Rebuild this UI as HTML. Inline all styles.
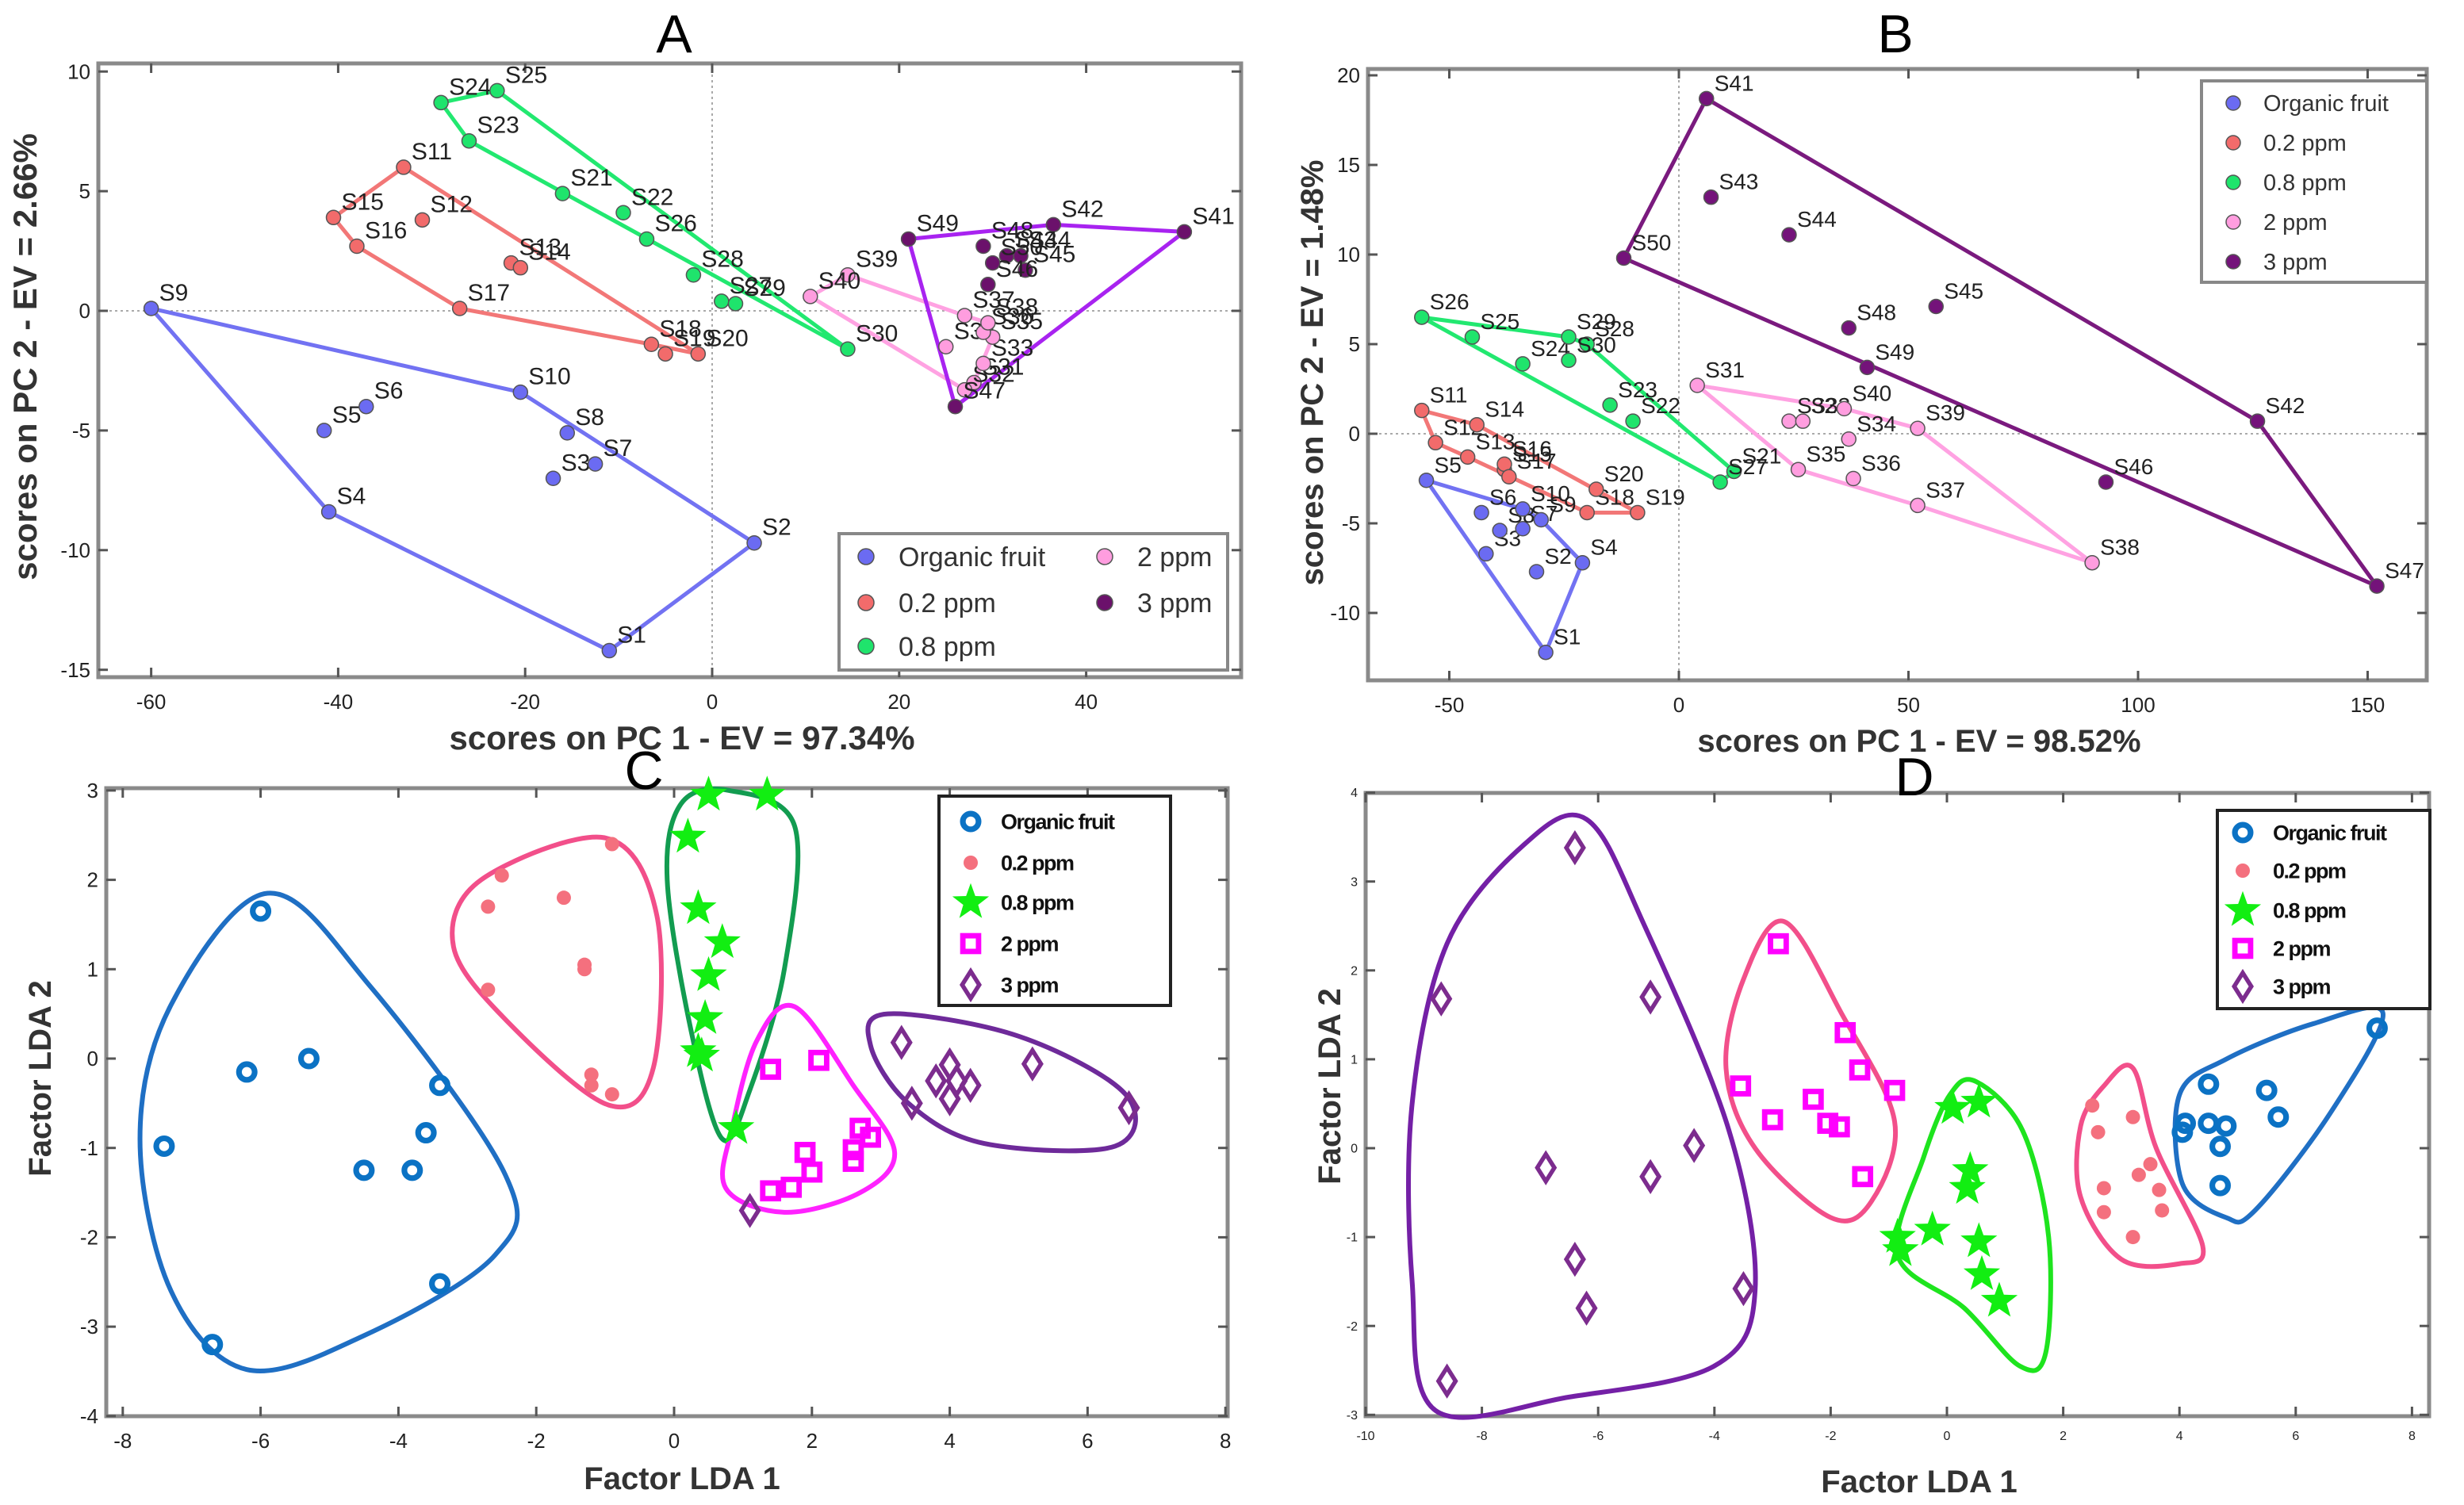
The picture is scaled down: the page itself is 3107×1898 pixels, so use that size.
<!DOCTYPE html>
<html><head><meta charset="utf-8">
<style>
html,body{margin:0;padding:0;background:#fff;}
svg{display:block;font-family:"Liberation Sans",sans-serif;}
</style></head>
<body>
<svg id="fig" width="3107" height="1898" viewBox="0 0 3107 1898" xmlns="http://www.w3.org/2000/svg"></svg>
<script>
// ---------- Panel A data (PCA) ----------
const aNames = ["S1","S2","S3","S4","S5","S6","S7","S8","S9","S10","S11","S12","S13","S14","S15","S16","S17","S18","S19","S20","S21","S22","S23","S24","S25","S26","S27","S28","S29","S30","S31","S32","S33","S34","S35","S36","S37","S38","S39","S40","S41","S42","S43","S44","S45","S46","S47","S48","S49","S50"];
const aX = [-11,4.5,-17,-41,-41.5,-37,-12.5,-15.5,-60,-20.5, -33,-31,-21.5,-20.5,-40.5,-38,-27,-6.5,-5,-1.5, -16,-9.5,-26,-29,-23,-7,1,-2,2.5,14.5, 28,27,29,25,30,29,27,29.5,14.5,10.5, 50.5,36.5,31.5,33,33.5,29.5,26,29,21,30];
const aY = [-14.2,-9.7,-7,-8.4,-5,-4,-6.4,-5.1,0.1,-3.4, 6,3.8,2,1.8,3.9,2.7,0.1,-1.4,-1.8,-1.8, 4.9,4.1,7.1,8.7,9.2,3,0.4,1.5,0.3,-1.6, -3,-3.3,-2.2,-1.5,-1.1,-0.9,-0.2,-0.5,1.5,0.6, 3.3,3.6,2.3,2.3,1.7,1.1,-4,2.7,3,2];
const aHulls = [[9,10,2,1,4],[11,20,18,17,16,15],[24,25,30,23],[40,39,37,38,35,31,32],[49,42,41,47]];
const aXTicks = [-60,-40,-20,0,20,40];
const aYTicks = [10,5,0,-5,-10,-15];
// ---------- Panel B data (PCA) ----------
const bX = [-29,-31,-42,-21,-55,-43,-34,-39,-30,-34, -56,-53,-46,-44,-38,-38,-37,-20,-9,-18, 12,-10,-15,-34,-45,-56,9,-20,-24,-24, 4,24,27,37,26,38,52,90,52,36, 6,126,7,24,56,93,152,37,41,-12];
const bY = [-12.2,-7.7,-6.7,-7.2,-2.6,-4.4,-5.3,-5.4,-4.8,-4.2, 1.3,-0.5,-1.3,0.5,-2,-1.7,-2.4,-4.4,-4.4,-3.1, -2.1,0.7,1.6,3.9,5.4,6.5,-2.7,5,5.4,4.1, 2.7,0.7,0.7,-0.3,-2,-2.5,-4,-7.2,0.3,1.4, 18.7,0.7,13.2,11.1,7.1,-2.7,-8.5,5.9,3.7,9.8];
const bHulls = [[5,10,9,4,1],[11,14,19,18,13,12],[26,29,28,21,27],[31,40,39,38,37,35],[41,42,47,50]];
const bXTicks = [-50,0,50,100,150];
const bYTicks = [20,15,10,5,0,-5,-10];
// ---------- Panel C data (LDA) ----------
const cOrgX=[-6,-5.3,-6.2,-7.4,-3.4,-3.6,-4.5,-3.8,-3.4,-6.7], cOrgY=[1.65,0,-0.15,-0.98,-0.3,-0.83,-1.25,-1.25,-2.52,-3.2];
const c02X=[-2.5,-2.7,-1.6,-1.3,-1.3,-2.7,-1.2,-1.2,-0.9,-0.9], c02Y=[2.05,1.7,1.8,1.05,1.0,0.77,-0.18,-0.3,-0.4,2.4];
const c08X=[0.5,1.35,0.2,0.35,0.7,0.5,0.45,0.35,0.4,0.9], c08Y=[2.95,2.95,2.48,1.68,1.3,0.93,0.45,0.08,0.03,-0.78];
const c2X=[1.4,2.1,2.7,2.85,1.9,2.6,2.6,2.0,1.7,1.4], c2Y=[-0.12,-0.02,-0.78,-0.88,-1.05,-1.02,-1.15,-1.27,-1.44,-1.48];
const c3X=[3.3,4.0,3.8,4.1,4.3,4.0,3.45,5.2,6.6,1.1], c3Y=[0.18,-0.07,-0.25,-0.25,-0.3,-0.45,-0.5,-0.06,-0.55,-1.7];
const cOutOrg=[[-5.9,1.85],[-4.4,0.8],[-2.45,-1.3],[-2.6,-2.2],[-4.5,-3.1],[-6.2,-3.48],[-7.3,-2.6],[-7.75,-0.9],[-7.3,0.6]];
const cOut02=[[-1.0,2.47],[-0.25,1.6],[-0.3,-0.1],[-0.95,-0.52],[-2.4,0.4],[-3.2,1.25],[-2.8,2.0]];
const cOut08=[[0.8,3.0],[1.75,2.6],[1.6,1.0],[1.1,-0.35],[0.7,-0.9],[0.25,0.3],[-0.1,2.0],[0.1,2.85]];
const cOut2=[[1.75,0.58],[2.6,-0.3],[3.2,-1.05],[2.7,-1.5],[1.6,-1.72],[0.75,-1.45],[0.85,-0.75],[1.2,0.2]];
const cOut3=[[3.1,0.5],[5.0,0.25],[6.55,-0.4],[6.4,-0.98],[4.5,-0.95],[3.4,-0.5],[2.85,0.15]];
const cXTicks=[-8,-6,-4,-2,0,2,4,6,8], cYTicks=[3,2,1,0,-1,-2,-3,-4];
// ---------- Panel D data (LDA) ----------
const dOrgX=[7.4,4.5,5.5,5.7,4.1,4.05,4.5,4.8,4.7,4.7], dOrgY=[1.35,0.72,0.65,0.35,0.28,0.18,0.28,0.25,0.02,-0.42];
const d02X=[2.5,2.6,3.2,3.3,3.5,3.65,2.7,2.7,3.7,3.2], d02Y=[0.48,0.18,0.35,-0.3,-0.18,-0.47,-0.45,-0.72,-0.7,-1.0];
const d08X=[0.1,0.55,0.4,0.35,-0.25,-0.85,-0.8,0.55,0.6,0.9], d08Y=[0.45,0.52,-0.25,-0.45,-0.92,-1.0,-1.15,-1.05,-1.42,-1.72];
const d2X=[-2.9,-1.75,-1.5,-3.55,-2.3,-0.9,-3.0,-2.05,-1.85,-1.45], d2Y=[2.3,1.3,0.88,0.7,0.55,0.65,0.32,0.28,0.24,-0.32];
const d3X=[-6.4,-8.7,-5.1,-4.35,-6.9,-5.1,-6.4,-6.2,-3.5,-8.6], d3Y=[3.38,1.68,1.7,0.03,-0.22,-0.32,-1.25,-1.8,-1.58,-2.62];
const dOut3=[[-6.2,3.7],[-5.2,2.5],[-3.75,0.2],[-3.3,-1.6],[-4.0,-2.45],[-6.5,-2.8],[-8.8,-2.95],[-9.2,-1.5],[-9.2,0.5],[-8.6,2.3],[-7.3,3.4]];
const dOut2=[[-2.8,2.55],[-1.8,1.5],[-0.9,0.3],[-1.3,-0.6],[-2.0,-0.78],[-3.3,0.0],[-3.8,0.9],[-3.5,1.9]];
const dOut08=[[0.5,0.75],[1.3,0.2],[1.75,-1.0],[1.7,-2.3],[1.25,-2.45],[0.3,-1.8],[-0.85,-1.2],[-0.4,-0.1],[0.05,0.6]];
const dOut02=[[3.2,0.9],[3.6,0],[4.4,-1.1],[4.0,-1.3],[3.0,-1.25],[2.3,-0.55],[2.3,0.25],[2.7,0.7]];
const dOutOrg=[[7.5,1.52],[6.6,0.4],[5.3,-0.7],[4.8,-0.78],[4.05,-0.4],[4.0,0.6],[4.8,1.0],[6.3,1.4]];
const dXTicks=[-10,-8,-6,-4,-2,0,2,4,6,8], dYTicks=[4,3,2,1,0,-1,-2,-3];
const legendLabels=["Organic fruit","0.2 ppm","0.8 ppm","2 ppm","3 ppm"];

const NS="http://www.w3.org/2000/svg";
const svg=document.getElementById('fig');
function mk(tag,attrs,parent){const e=document.createElementNS(NS,tag);for(const k in attrs)e.setAttribute(k,attrs[k]);(parent||svg).appendChild(e);return e;}
function txt(s,x,y,size,attrs,parent){const t=mk('text',Object.assign({x:x,y:y,'font-size':size},attrs||{}),parent);t.textContent=s;return t;}
function scale(d0,p0,d1,p1){return v=>p0+(v-d0)*(p1-p0)/(d1-d0);}
function closedSpline(pts){let d='';const n=pts.length;for(let i=0;i<n;i++){const p0=pts[(i-1+n)%n],p1=pts[i],p2=pts[(i+1)%n],p3=pts[(i+2)%n];if(i===0)d+='M'+p1[0]+','+p1[1];const c1=[p1[0]+(p2[0]-p0[0])/6,p1[1]+(p2[1]-p0[1])/6],c2=[p2[0]-(p3[0]-p1[0])/6,p2[1]-(p3[1]-p1[1])/6];d+=' C'+c1+' '+c2+' '+p2;}return d+'Z';}
function frame(g,L,T,R,B){const r=mk('rect',{x:L,y:T,width:R-L,height:B-T,fill:'none',stroke:'#8a8a8a','stroke-width':5},g);}
function ticks(g,xs,ys,X,Y,L,T,R,B,fs,dec){
  xs.forEach(v=>{const x=X(v);mk('line',{x1:x,y1:B,x2:x,y2:B-12,stroke:'#555','stroke-width':3},g);mk('line',{x1:x,y1:T,x2:x,y2:T+12,stroke:'#555','stroke-width':3},g);const t=txt(String(v),x,B+fs+14,fs,{'text-anchor':'middle',fill:'#222'},g);});
  ys.forEach(v=>{const y=Y(v);mk('line',{x1:L,y1:y,x2:L+12,y2:y,stroke:'#555','stroke-width':3},g);mk('line',{x1:R,y1:y,x2:R-12,y2:y,stroke:'#555','stroke-width':3},g);const t=txt(String(v),L-10,y+fs*0.35,fs,{'text-anchor':'end',fill:'#222'},g);});
}
function title(s,x,y){const t=txt(s,x,y,68,{'text-anchor':'middle',fill:'#000'});}
function axLabel(s,x,y,size,rot,name){const t=txt(s,x,y,size,{'text-anchor':'middle','font-weight':'bold',fill:'#333',transform:rot?`rotate(-90 ${x} ${y})`:''});}

// PCA panel
function pca(px,py,hulls,X,Y,fill,line,name,labelSize){
  const g=mk('g',{});
  hulls.forEach((h,gi)=>{const pts=h.map(i=>X(px[i-1])+','+Y(py[i-1])).join(' ');const p=mk('polygon',{points:pts,fill:'none',stroke:line[gi],'stroke-width':5},g);});
  px.forEach((v,i)=>{const gi=Math.floor(i/10);const c=mk('circle',{cx:X(v),cy:Y(py[i]),r:9,fill:fill[gi],stroke:'#555','stroke-width':1.5},g);
    const t=txt(aNames[i],X(v)+10,Y(py[i])-10,labelSize,{fill:'#222'},g);});
}
// ----- Panel A -----
{const L=124,T=80,R=1565,B=854;const X=scale(0,898,40,898+40*11.79),Y=scale(0,392,10,392-301.8);
 const g=mk('g',{});
 mk('line',{x1:X(0),y1:T,x2:X(0),y2:B,stroke:'#aaa','stroke-width':2,'stroke-dasharray':'3,4'},g);
 mk('line',{x1:L,y1:Y(0),x2:R,y2:Y(0),stroke:'#aaa','stroke-width':2,'stroke-dasharray':'3,4'},g);
 frame(g,L,T,R,B);ticks(g,aXTicks,aYTicks,X,Y,L,T,R,B,26);
 pca(aX,aY,aHulls,X,Y,['#6b6bf2','#f26b6b','#1fe46c','#ff9ddf','#6b116b'],['#7272f2','#f27777','#22e870','#ffa2e2','#a823f0'],'panel-a-series',30);
 title('A',850,66);axLabel('scores on PC 1 - EV = 97.34%',860,945,42,false,'x-axis-title');axLabel('scores on PC 2 - EV = 2.66%',46,450,42,true,'y-axis-title');
 const lg=mk('g',{},g);
 mk('rect',{x:1058,y:673,width:490,height:172,fill:'#fff',stroke:'#888','stroke-width':4},lg);
 const lc=['#6b6bf2','#f26b6b','#1fe46c','#ff9ddf','#6b116b'],lpos=[[1092,702],[1092,760],[1092,815],[1393,702],[1393,760]];
 legendLabels.forEach((s,i)=>{const e=mk('circle',{cx:lpos[i][0],cy:lpos[i][1],r:10,fill:lc[i],stroke:'#555','stroke-width':1.5},lg);const t=txt(s,lpos[i][0]+41,lpos[i][1]+12,34,{fill:'#333'},lg);});
}
// ----- Panel B -----
{const L=1725,T=87,R=3060,B=858;const X=scale(0,2117,150,2117+150*5.79),Y=scale(0,547,20,547-452);
 const g=mk('g',{});
 mk('line',{x1:X(0),y1:T,x2:X(0),y2:B,stroke:'#aaa','stroke-width':2,'stroke-dasharray':'3,4'},g);
 mk('line',{x1:L,y1:Y(0),x2:R,y2:Y(0),stroke:'#aaa','stroke-width':2,'stroke-dasharray':'3,4'},g);
 frame(g,L,T,R,B);ticks(g,bXTicks,bYTicks,X,Y,L,T,R,B,26);
 pca(bX,bY,bHulls,X,Y,['#6b6bf2','#f26b6b','#1fe46c','#ff9ddf','#74137a'],['#7272f2','#f27777','#22e870','#ffa2e2','#7a1a7e'],'panel-b-series',28);
 title('B',2390,66);axLabel('scores on PC 1 - EV = 98.52%',2420,948,40,false,'x-axis-title');axLabel('scores on PC 2 - EV = 1.48%',1668,470,40,true,'y-axis-title');
 const lg=mk('g',{},g);
 mk('rect',{x:2776,y:102,width:284,height:254,fill:'#fff',stroke:'#888','stroke-width':4},lg);
 const lc=['#6b6bf2','#f26b6b','#1fe46c','#ff9ddf','#74137a'];
 legendLabels.forEach((s,i)=>{const y=130+i*50;const e=mk('circle',{cx:2816,cy:y,r:9,fill:lc[i],stroke:'#555','stroke-width':1.5},lg);const t=txt(s,2854,y+10,29,{fill:'#333'},lg);});
}
// LDA marker drawer
function marker(g,type,x,y,s){let e;
  if(type==='o'){e=mk('circle',{cx:x,cy:y,r:s*0.55,fill:'none',stroke:'#0b72c4','stroke-width':s*0.4},g);}
  else if(type==='d'){e=mk('circle',{cx:x,cy:y,r:s*0.5,fill:'#f4707e'},g);}
  else if(type==='*'){const p=[];for(let k=0;k<10;k++){const a=-Math.PI/2+k*Math.PI/5,r=k%2?s*0.55:s*1.35;p.push((x+r*Math.cos(a)).toFixed(1)+','+(y+r*Math.sin(a)).toFixed(1));}e=mk('polygon',{points:p.join(' '),fill:'#12ee12'},g);}
  else if(type==='s'){e=mk('rect',{x:x-s*0.55,y:y-s*0.55,width:s*1.1,height:s*1.1,fill:'none',stroke:'#ff00ff','stroke-width':s*0.38},g);}
  else {e=mk('polygon',{points:`${x},${y-s*0.95} ${x+s*0.6},${y} ${x},${y+s*0.95} ${x-s*0.6},${y}`,fill:'none',stroke:'#7c2c8e','stroke-width':s*0.3},g);}
  return e;}
function lda(g,series,outlines,outColors,X,Y,s){
  outlines.forEach((o,i)=>{const p=mk('path',{d:closedSpline(o.map(q=>[X(q[0]),Y(q[1])])),fill:'none',stroke:outColors[i],'stroke-width':6},g);});
  series.forEach(sr=>{sr[0].forEach((v,i)=>{const e=marker(g,sr[2],X(v),Y(sr[1][i]),s);});});
}
function ldaLegend(g,x0,y0,w,h,mx,tx,rows,fs,s){
  const lg=mk('g',{},g);
  mk('rect',{x:x0,y:y0,width:w,height:h,fill:'#fff',stroke:'#222','stroke-width':4},lg);
  const types=['o','d','*','s','v'];
  legendLabels.forEach((lab,i)=>{const e=marker(lg,types[i],mx,rows[i],s);const t=txt(lab,tx,rows[i]+fs*0.36,fs,{fill:'#111','font-weight':'bold','letter-spacing':'-1.5'},lg);});
}
// ----- Panel C -----
{const L=134,T=994,R=1548,B=1786;const X=scale(0,850,8,850+8*86.9),Y=scale(0,1335,3,1335-3*112.7);
 const g=mk('g',{});
 frame(g,L,T,R,B);ticks(g,cXTicks,cYTicks,X,Y,L,T,R,B,26);
 lda(g,[[cOrgX,cOrgY,'o'],[c02X,c02Y,'d'],[c08X,c08Y,'*'],[c2X,c2Y,'s'],[c3X,c3Y,'v']],[cOutOrg,cOut02,cOut08,cOut2,cOut3],['#1f6fc4','#f24f8a','#129c50','#ff22ff','#6e2a9a'],X,Y,18);
 ldaLegend(g,1184,1004,292,264,1224,1262,[1036,1088,1138,1190,1242],27,18);
 title('C',812,995);axLabel('Factor LDA 1',860,1878,40,false,'x-axis-title');axLabel('Factor LDA 2',64,1360,40,true,'y-axis-title');
}
// ----- Panel D -----
{const L=1722,T=1000,R=3063,B=1786;const X=scale(0,2455,8,2455+8*73.3),Y=scale(0,1448,4,1448-4*112.1);
 const g=mk('g',{});
 frame(g,L,T,R,B);ticks(g,dXTicks,dYTicks,X,Y,L,T,R,B,16);
 lda(g,[[dOrgX,dOrgY,'o'],[d02X,d02Y,'d'],[d08X,d08Y,'*'],[d2X,d2Y,'s'],[d3X,d3Y,'v']],[dOut3,dOut2,dOut08,dOut02,dOutOrg],['#7420a6','#f24f8a','#1ee41e','#f24f8a','#1f6fc4'],X,Y,18);
 ldaLegend(g,2796,1022,268,250,2828,2866,[1050,1098,1148,1196,1244],27,18);
 title('D',2414,1003);axLabel('Factor LDA 1',2420,1882,40,false,'x-axis-title');axLabel('Factor LDA 2',1690,1370,40,true,'y-axis-title');
}
</script>
</body></html>
